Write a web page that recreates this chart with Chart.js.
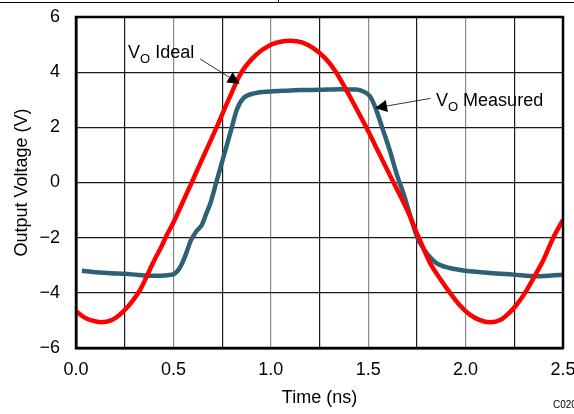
<!DOCTYPE html>
<html>
<head>
<meta charset="utf-8">
<script src="https://cdn.jsdelivr.net/npm/chart.js@4.4.0/dist/chart.umd.min.js"></script>
<style>
  body { margin: 0; background: #fff; }
  #wrap { position: relative; width: 574px; height: 414px; }
  #topLine { position: absolute; left: 0; top: 2px; width: 574px; height: 1px; background: #000; }
  #topTick { position: absolute; left: 278px; top: 0; width: 1px; height: 3px; background: #000; }
</style>
</head>
<body>
<div id="wrap">
  <canvas id="voChart" width="574" height="414"></canvas>
  <div id="topLine"></div>
  <div id="topTick"></div>
</div>
<script>
// Ideal output (red)
const timeIdeal = [0, 0.04, 0.08, 0.13, 0.18, 0.22, 0.26, 0.30, 0.33, 0.36, 0.40, 0.44, 0.47, 0.50, 0.55, 0.594,
  0.65, 0.72, 0.78, 0.85, 0.92, 1.00, 1.05, 1.10, 1.16, 1.22, 1.28, 1.33, 1.38, 1.43, 1.49, 1.56, 1.63,
  1.70, 1.76, 1.82, 1.87, 1.92, 1.97, 2.02, 2.07, 2.125, 2.18, 2.22, 2.26, 2.305, 2.35, 2.40, 2.45, 2.50];
const voIdeal = [-4.67, -4.88, -5.0, -5.07, -5.0, -4.82, -4.55, -4.2, -3.88, -3.45, -2.85, -2.3, -1.85, -1.45, -0.68, 0.0,
  0.88, 1.97, 2.95, 4.0, 4.6, 4.99, 5.1, 5.14, 5.08, 4.86, 4.5, 4.05, 3.45, 2.8, 2.0, 1.0, 0.0,
  -1.0, -2.0, -2.95, -3.5, -4.0, -4.45, -4.78, -4.98, -5.07, -4.98, -4.75, -4.45, -4.0, -3.45, -2.8, -2.0, -1.35];

// Measured output (teal)
const timeMeasured = [0.03, 0.10, 0.18, 0.25, 0.32, 0.40, 0.47, 0.50, 0.52, 0.54, 0.56, 0.59, 0.62, 0.645, 0.67, 0.69,
  0.72, 0.74, 0.77, 0.80, 0.825, 0.86, 0.92, 1.00, 1.08, 1.15, 1.25, 1.355, 1.44, 1.475, 1.51, 1.535, 1.57,
  1.61, 1.65, 1.68, 1.72, 1.75, 1.78, 1.80, 1.85, 1.92, 2.00, 2.125, 2.245, 2.365, 2.50];
const voMeasured = [-3.2, -3.25, -3.29, -3.31, -3.35, -3.38, -3.36, -3.33, -3.22, -3.0, -2.68, -2.1, -1.75, -1.55, -1.1, -0.75,
  0.0, 0.5, 1.25, 2.0, 2.63, 3.06, 3.24, 3.3, 3.33, 3.35, 3.36, 3.38, 3.37, 3.3, 3.12, 2.75, 2.03,
  1.18, 0.22, -0.38, -1.3, -1.96, -2.35, -2.56, -2.92, -3.1, -3.2, -3.28, -3.34, -3.4, -3.34];

const xTicks = [0, 0.25, 0.5, 0.75, 1.0, 1.25, 1.5, 1.75, 2.0, 2.25, 2.5];
const yTicks = [-6, -4, -2, 0, 2, 4, 6];

const FONT = "'Liberation Sans', Arial, sans-serif";

function toPoints(xs, ys) {
  return xs.map((x, i) => ({ x: x, y: ys[i] }));
}

// "V" with subscript "O" followed by the rest of the label
function drawVLabel(ctx, px, py, rest) {
  ctx.fillStyle = "#000";
  ctx.textBaseline = "alphabetic";
  ctx.textAlign = "left";
  ctx.font = "18px " + FONT;
  ctx.fillText("V", px, py);
  let w = ctx.measureText("V").width;
  ctx.font = "13px " + FONT;
  ctx.fillText("O", px + w, py + 5);
  w += ctx.measureText("O").width;
  ctx.font = "18px " + FONT;
  ctx.fillText(" " + rest, px + w, py);
}

function drawArrow(ctx, x0, y0, x1, y1) {
  let ang = Math.atan2(y1 - y0, x1 - x0);
  let len = 12, half = 6;
  let bx = x1 - len * Math.cos(ang), by = y1 - len * Math.sin(ang);
  ctx.strokeStyle = "#000";
  ctx.lineWidth = 0.8;
  ctx.beginPath();
  ctx.moveTo(x0, y0);
  ctx.lineTo(bx, by);
  ctx.stroke();
  ctx.fillStyle = "#000";
  ctx.beginPath();
  ctx.moveTo(x1, y1);
  ctx.lineTo(bx + half * Math.sin(ang), by - half * Math.cos(ang));
  ctx.lineTo(bx - half * Math.sin(ang), by + half * Math.cos(ang));
  ctx.closePath();
  ctx.fill();
}

const extras = {
  id: "extras",
  afterDatasetsDraw(chart) {
    const { ctx, chartArea: a, scales: { x, y } } = chart;
    ctx.save();
    // plot frame
    ctx.strokeStyle = "#000";
    ctx.lineWidth = 2.5;
    ctx.strokeRect(a.left, a.top, a.right - a.left, a.bottom - a.top);

    // callouts
    drawVLabel(ctx, x.getPixelForValue(0.267), y.getPixelForValue(4.52), "Ideal");
    drawArrow(ctx, x.getPixelForValue(0.637), y.getPixelForValue(4.48),
      x.getPixelForValue(0.84), y.getPixelForValue(3.58));

    drawVLabel(ctx, x.getPixelForValue(1.848), y.getPixelForValue(2.78), "Measured");
    drawArrow(ctx, x.getPixelForValue(1.82), y.getPixelForValue(3.05),
      x.getPixelForValue(1.535), y.getPixelForValue(2.7));

    // figure code, cut at the right edge
    ctx.font = "10px " + FONT;
    ctx.fillStyle = "#000";
    ctx.textAlign = "left";
    ctx.textBaseline = "alphabetic";
    ctx.fillText("C020", 553, 408);
    ctx.restore();
  }
};

new Chart(document.getElementById("voChart"), {
  type: "line",
  data: {
    datasets: [
      {
        label: "VO Ideal",
        data: toPoints(timeIdeal, voIdeal),
        borderColor: "#ff0000",
        borderWidth: 4.5,
        pointRadius: 0,
        cubicInterpolationMode: "monotone",
        order: 0
      },
      {
        label: "VO Measured",
        data: toPoints(timeMeasured, voMeasured),
        borderColor: "#2d6276",
        borderWidth: 4.5,
        pointRadius: 0,
        cubicInterpolationMode: "monotone",
        order: 1
      }
    ]
  },
  options: {
    responsive: false,
    animation: false,
    layout: { padding: { top: 17, right: 11, left: 0, bottom: 0 } },
    plugins: { legend: { display: false }, tooltip: { enabled: false } },
    scales: {
      x: {
        type: "linear",
        min: 0,
        max: 2.5,
        afterBuildTicks: s => { s.ticks = xTicks.map(v => ({ value: v })); },
        afterFit: s => { s.height = 66; s.paddingLeft = 0; s.paddingRight = 0; },
        grid: {
          drawTicks: false,
          color: c => (Math.abs(c.tick.value * 2 - Math.round(c.tick.value * 2)) < 1e-6 ? "#8a8a8a" : "#1a1a1a"),
          lineWidth: 1.2
        },
        border: { color: "#000", width: 2.5 },
        ticks: {
          padding: 11,
          color: "#000",
          font: { family: FONT, size: 18 },
          maxRotation: 0,
          autoSkip: false,
          callback: v => (Math.abs(v * 2 - Math.round(v * 2)) < 1e-6 ? v.toFixed(1) : "")
        },
        title: {
          display: true,
          text: "Time (ns)",
          color: "#000",
          font: { family: FONT, size: 18 },
          padding: { top: 0, bottom: 5 }
        }
      },
      y: {
        min: -6,
        max: 6,
        afterBuildTicks: s => { s.ticks = yTicks.map(v => ({ value: v })); },
        afterFit: s => { s.width = 76; s.paddingTop = 0; s.paddingBottom = 0; },
        grid: { drawTicks: false, color: "#1a1a1a", lineWidth: 1.2 },
        border: { color: "#000", width: 2.5 },
        ticks: {
          padding: 16,
          color: "#000",
          font: { family: FONT, size: 18 },
          callback: v => String(v).replace("-", "\u2212")
        },
        title: {
          display: true,
          text: "Output Voltage (V)",
          color: "#000",
          font: { family: FONT, size: 18 },
          padding: { top: 11, bottom: 0 }
        }
      }
    }
  },
  plugins: [extras]
});
</script>
</body>
</html>
